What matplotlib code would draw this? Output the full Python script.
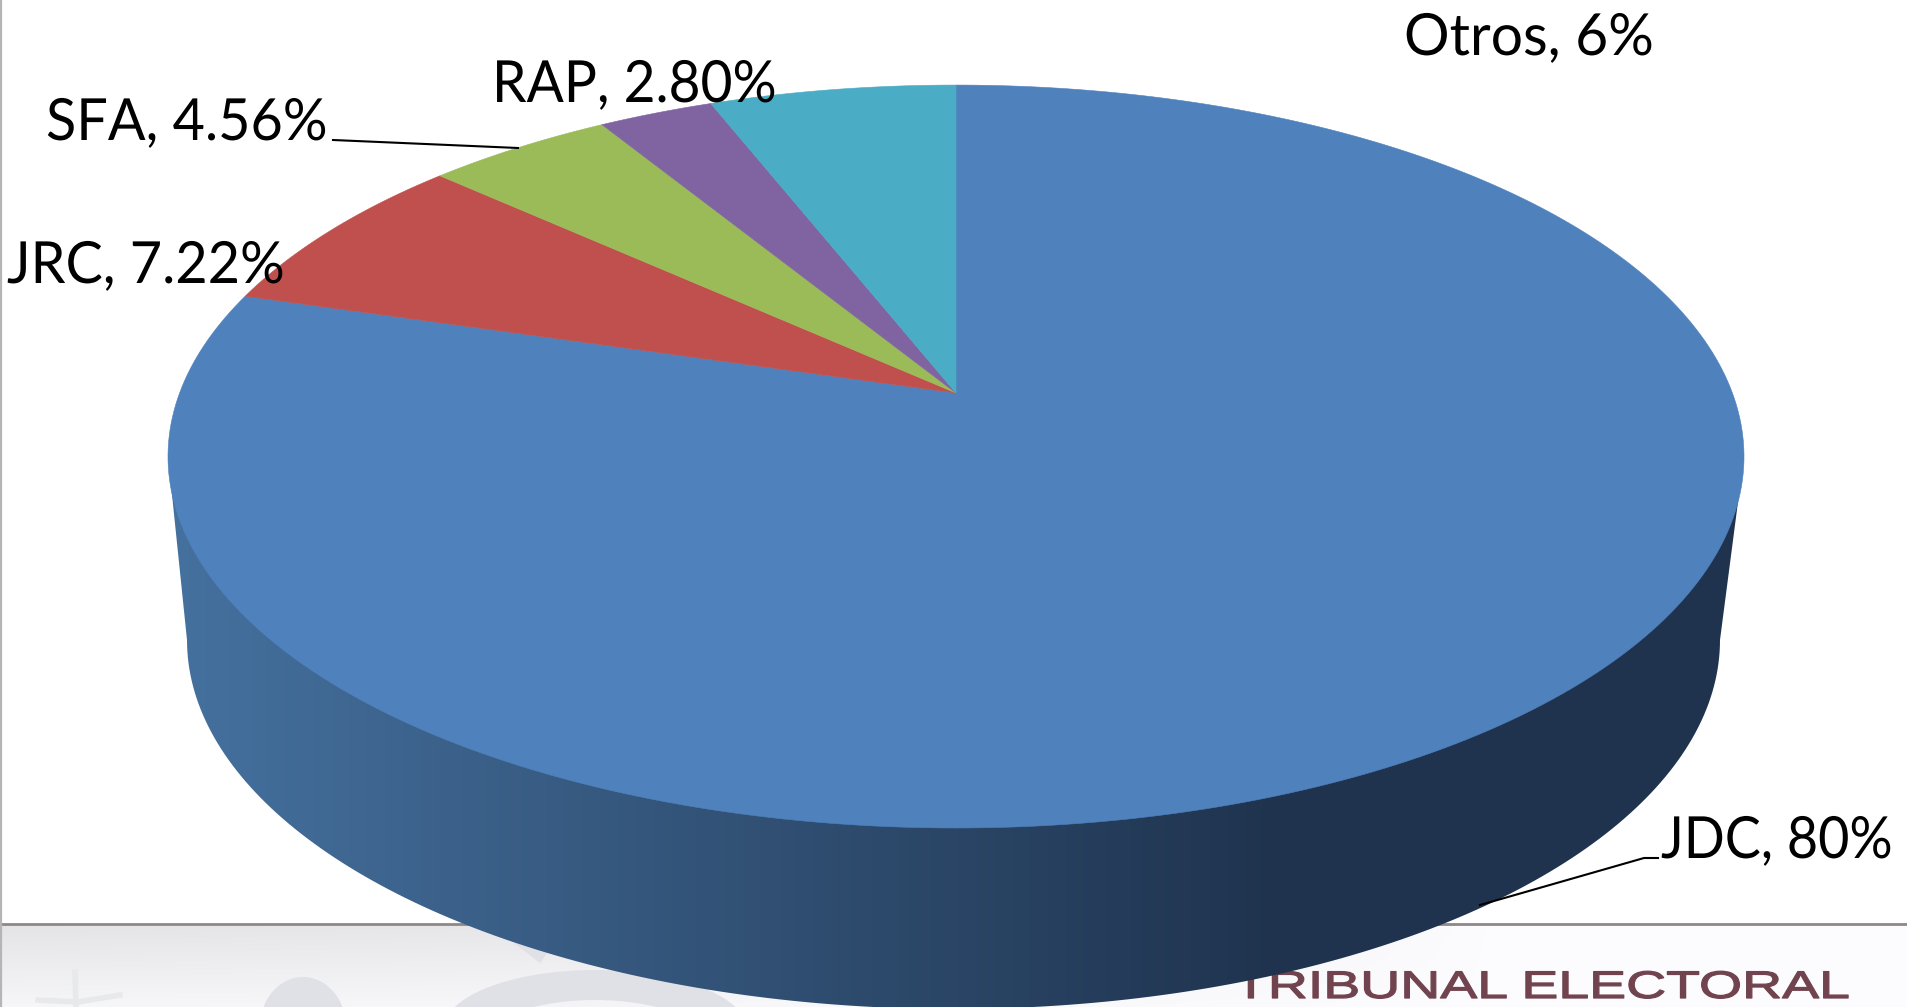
import numpy as np
import matplotlib
matplotlib.use('Agg')
import matplotlib.pyplot as plt
from matplotlib.colors import to_rgb
from matplotlib.patches import Ellipse, Polygon
from matplotlib.patheffects import AbstractPathEffect
from matplotlib.transforms import Affine2D

# Data, clockwise from 12 o'clock
categories = ['JDC', 'JRC', 'SFA', 'RAP', 'Otros']
values = [80, 7.22, 4.56, 2.80, 6]
value_labels = ['JDC, 80%', 'JRC, 7.22%', 'SFA, 4.56%', 'RAP, 2.80%', 'Otros, 6%']
colors = ['#4f81bd', '#c0504d', '#9bbb59', '#8064a2', '#4bacc6']
label_pos = [(1661, 858), (7, 283), (46, 140), (492, 102), (1404, 55)]
label_squeeze = [0.947, 0.98, 0.98, 0.968, 1.0]

W, H = 1907, 1007

# Perspective of the pie top (pixels)
CX, CY = 956, 393
A, B, K = 776.4, 360.6, 0.171
# bottom rim of the pie
RIM_CX, RIM_CY, RIM_A, RIM_B = 953.5, 640, 766.5, 369


class Stretch(AbstractPathEffect):
    """Scale the glyphs of a text around its origin."""

    def __init__(self, sx=1.0, sy=1.0, stroke=0.0):
        super().__init__()
        self.sx = sx
        self.sy = sy
        self.stroke = stroke

    def draw_path(self, renderer, gc, tpath, affine, rgbFace=None):
        gc.set_linewidth(self.stroke)
        renderer.draw_path(gc, tpath, Affine2D().scale(self.sx, self.sy) + affine, rgbFace)


def project(theta):
    # theta is clockwise from the top, circle seen in perspective
    u, v = np.sin(theta), np.cos(theta)
    x = A * u / (1 + K * v)
    y = -B * v / (1 + K * v)
    return CX + x, CY + y


fig = plt.figure(figsize=(W / 100, H / 100), dpi=100, facecolor='white')
ax = fig.add_axes([0, 0, 1, 1])

# footer background, grey on the left, fading to white to the right
rows = np.interp(np.arange(925, H), [925, 1007], [0.895, 0.968])
fade = np.interp(np.arange(W), [0, 700, 1300, 1500], [0, 0.15, 0.75, 1])
shade = rows[:, None] + (0.99 - rows[:, None]) * fade[None, :]
tint = np.dstack([shade, shade, shade + 0.008])
ax.imshow(np.clip(tint, 0, 1), extent=(0, W, H, 925), aspect='auto', zorder=0)

# watermark shapes behind the pie
mark = '#e0e1e6'
ax.add_patch(Ellipse((303, 1027), 86, 100, color=mark, lw=0, zorder=1))
ax.add_patch(Ellipse((595, 1030), 304, 120, color=mark, lw=0, zorder=1))
ax.add_patch(Ellipse((595, 1060), 262, 120, color='#f4f4f7', lw=0, zorder=1))
ax.add_patch(Polygon([(510, 940), (553, 945), (540, 963)], color=mark, lw=0, zorder=1))
ax.plot([75, 76], [972, 1007], color='#e8e9ec', lw=4, zorder=1)
ax.plot([38, 78, 120], [1000, 1002, 995], color='#e8e9ec', lw=4, zorder=1)

ax.plot([0, W], [924, 924], color='#8f8788', lw=2, zorder=2)
ax.plot([1, 1], [0, H], color='#b5b5b5', lw=1.6, zorder=2)

footer = ax.text(1234, 998, 'TRIBUNAL ELECTORAL', family='Liberation Sans', fontsize=26.6,
                 color='#70434f', ha='left', va='baseline', zorder=3)
footer_w = footer.get_window_extent(fig.canvas.get_renderer()).width
footer.set_path_effects([Stretch(sx=615 / footer_w, sy=1.04, stroke=0.9)])

# side of the pie with horizontal gradient
t = np.linspace(np.pi, 0, 200)
rim_x = RIM_CX + RIM_A * np.cos(t)
rim_y = RIM_CY + RIM_B * np.sin(t)
side_pts = [project(-np.pi / 2 - 0.17)] + list(zip(rim_x, rim_y)) + [project(np.pi / 2 + 0.17)]
side = Polygon(side_pts, closed=True, fc='none', ec='none', zorder=4)
ax.add_patch(side)
c0, c1 = np.array(to_rgb('#45719f')), np.array(to_rgb('#1f334e'))
mix = np.interp(np.arange(W), [170, 1280], [0, 1])[None, :, None]
grad = ax.imshow(c0 + (c1 - c0) * mix, extent=(0, W, H, 0), aspect='auto', zorder=4)
grad.set_clip_path(side)

# top of the pie
edges = np.cumsum([0] + values) / np.sum(values) * 2 * np.pi
for i in range(len(values)):
    theta = np.linspace(edges[i], edges[i + 1], 300)
    x, y = project(theta)
    ax.fill(np.r_[CX, x], np.r_[CY, y], facecolor=colors[i], edgecolor=colors[i], lw=0.4, zorder=5)

# leader lines
ax.plot([333, 518], [140, 148], color='black', lw=1.5, zorder=6)
ax.plot([1658, 1644, 1480], [858, 858, 905], color='black', lw=1.5, zorder=6)

for name, (lx, ly), squeeze in zip(value_labels, label_pos, label_squeeze):
    ax.text(lx, ly, name, family='Lato', fontsize=41, color='black', ha='left', va='baseline',
            zorder=7, path_effects=[Stretch(sx=squeeze, sy=1.02)])

ax.set_xlim(0, W)
ax.set_ylim(H, 0)
ax.axis('off')

fig.savefig('out.png', dpi=100)
